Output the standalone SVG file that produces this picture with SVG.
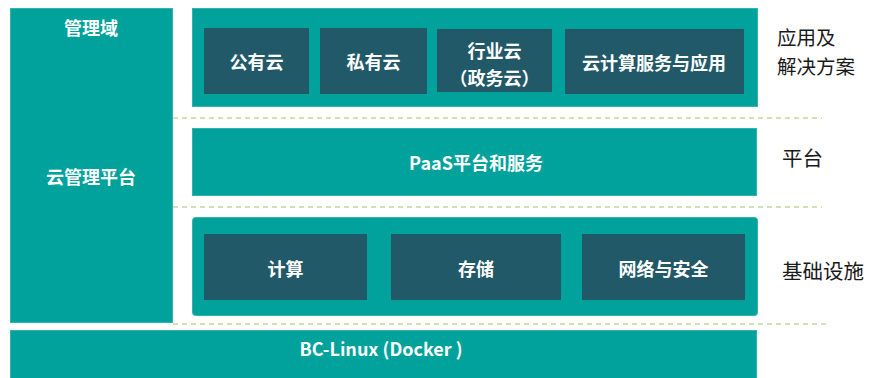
<svg xmlns="http://www.w3.org/2000/svg" width="869" height="378" viewBox="0 0 869 378">
<style>
.teal{fill:#00A29B;stroke:#33B3AD;stroke-width:1}
.dark{fill:#215968}
.wt{fill:#FFFFFF;font-family:"Noto Sans CJK SC","Noto Sans",sans-serif;font-weight:bold;font-size:18px;text-anchor:middle;dominant-baseline:central}
.bk{fill:#1A1A1A;font-family:"Noto Sans CJK SC","Noto Sans",sans-serif;font-size:20.5px;dominant-baseline:central}
.bk2{font-size:19.5px}
.dash{stroke:#C3D69B;stroke-width:1.6;stroke-dasharray:5 4;fill:none}
</style>
<rect width="869" height="378" fill="#FFFFFF"/>
<g id="connectors">
<line class="dash" x1="173" y1="118" x2="822" y2="118"/>
<line class="dash" x1="173" y1="207" x2="822" y2="207"/>
<line class="dash" x1="173" y1="324" x2="826" y2="324"/>
</g>
<g id="mgmt">
<rect class="teal" x="10.5" y="8.5" width="162" height="314"/>
<text class="wt" x="91" y="27">管理域</text>
<text class="wt" x="91" y="176">云管理平台</text>
</g>
<g id="apps">
<rect class="teal" x="192.5" y="8.5" width="565" height="98"/>
</g>
<g id="public-cloud">
<rect class="dark" x="204" y="28" width="105" height="66"/>
<text class="wt" x="256.5" y="61">公有云</text>
</g>
<g id="private-cloud">
<rect class="dark" x="320" y="28" width="107" height="66"/>
<text class="wt" x="373.5" y="61">私有云</text>
</g>
<g id="industry-cloud">
<rect class="dark" x="437" y="29" width="115" height="63"/>
<text class="wt" x="494.5" y="50">行业云<tspan x="494.5" dy="27">（政务云）</tspan></text>
</g>
<g id="cloud-services">
<rect class="dark" x="565" y="29" width="179" height="65"/>
<text class="wt" x="654" y="62">云计算服务与应用</text>
</g>
<g id="paas">
<rect class="teal" x="192.5" y="128.5" width="564" height="67"/>
<text class="wt" x="476" y="162">PaaS平台和服务</text>
</g>
<g id="infra">
<rect class="teal" x="192.5" y="217.5" width="565" height="98" rx="3"/>
</g>
<g id="compute">
<rect class="dark" x="204" y="234" width="163" height="66"/>
<text class="wt" x="285.5" y="268">计算</text>
</g>
<g id="storage">
<rect class="dark" x="391" y="234" width="170" height="66"/>
<text class="wt" x="476" y="268">存储</text>
</g>
<g id="network">
<rect class="dark" x="582" y="234" width="163" height="66"/>
<text class="wt" x="663.5" y="268">网络与安全</text>
</g>
<g id="os">
<rect class="teal" x="10.5" y="330.5" width="746" height="50"/>
<text class="wt" x="381" y="348">BC-Linux (Docker )</text>
</g>
<g id="labels">
<text class="bk bk2" x="777" y="36">应用及<tspan x="777" dy="28.5">解决方案</tspan></text>
<text class="bk" x="782" y="157">平台</text>
<text class="bk" x="782" y="270">基础设施</text>
</g>
</svg>
